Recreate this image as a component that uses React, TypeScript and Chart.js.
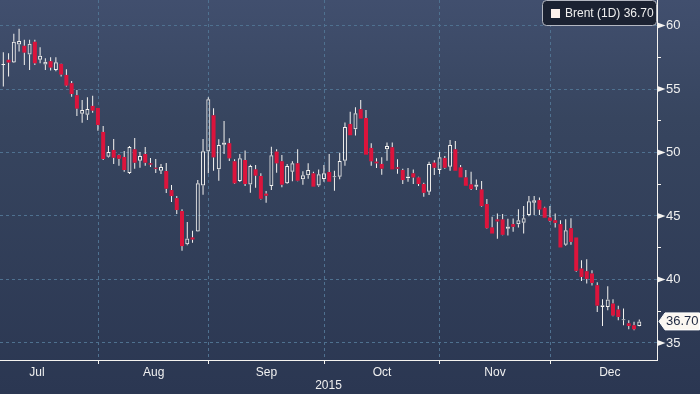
import React, { useEffect, useRef } from 'react';
import { Chart, registerables } from 'chart.js';

Chart.register(...registerables);

// ---- Data (Brent, daily candles) ----
const opens = [
  56.90, 57.30, 57.09, 58.50, 58.40, 57.72, 58.72, 57.30, 56.93, 57.19,
  56.50, 56.98, 56.11, 55.46, 54.51, 53.06, 52.98, 53.67, 53.51, 51.62,
  49.67, 50.20, 49.80, 49.65, 48.38, 50.25, 49.36, 49.88, 49.15, 48.80,
  48.57, 48.54, 47.04, 46.41, 45.39, 42.78, 43.31, 43.78, 47.41, 50.07,
  52.93, 48.68, 50.62, 50.73, 49.31, 47.75, 49.41, 47.49, 48.67, 48.15,
  46.76, 47.36, 50.07, 49.31, 47.57, 48.49, 49.15, 47.89, 48.20, 48.36,
  47.41, 47.91, 48.46, 48.05, 48.10, 49.36, 52.25, 51.83, 53.41, 52.72,
  50.36, 49.28, 49.10, 50.25, 50.41, 48.83, 48.62, 47.97, 48.36, 48.04,
  47.52, 46.91, 49.20, 48.62, 49.56, 48.88, 50.25, 48.83, 48.04, 47.49,
  47.30, 47.09, 45.94, 44.10, 44.73, 44.73, 43.99, 44.36, 44.36, 44.46,
  45.07, 46.04, 46.25, 45.65, 44.88, 44.67, 44.36, 42.73, 44.04, 43.31,
  40.86, 40.65, 40.47, 39.55, 37.84, 37.84, 38.10, 37.63, 36.80, 36.55,
  36.39, 36.34,
];
const highs = [
  57.90, 57.82, 59.35, 59.74, 58.87, 58.87, 58.87, 58.29, 57.43, 57.50,
  57.50, 57.00, 56.56, 55.64, 54.93, 54.14, 54.35, 54.46, 53.51, 52.09,
  50.51, 51.06, 49.85, 50.12, 50.51, 51.14, 50.04, 50.43, 49.57, 49.49,
  49.09, 49.17, 47.44, 46.57, 45.54, 44.52, 43.84, 47.83, 51.06, 54.35,
  53.48, 51.04, 52.49, 51.12, 49.46, 49.88, 50.15, 49.04, 49.02, 48.36,
  46.97, 50.46, 50.25, 49.81, 49.10, 49.31, 50.25, 48.52, 49.15, 48.49,
  48.67, 49.02, 49.88, 48.57, 49.99, 52.36, 53.20, 53.56, 54.14, 53.35,
  50.73, 49.54, 49.62, 50.78, 50.78, 49.46, 48.73, 48.78, 48.67, 48.10,
  47.62, 49.28, 49.40, 50.04, 49.72, 50.98, 50.90, 49.01, 48.62, 48.49,
  47.88, 47.75, 46.33, 44.94, 45.20, 45.15, 44.78, 44.80, 45.54, 45.78,
  46.57, 46.57, 46.46, 45.73, 45.78, 45.20, 44.67, 44.75, 44.83, 43.31,
  41.52, 41.60, 40.73, 39.78, 38.44, 39.47, 38.44, 37.94, 37.71, 36.79,
  36.68, 36.84,
];
const lows = [
  55.20, 55.98, 57.05, 57.95, 56.90, 56.50, 56.90, 57.03, 56.50, 56.45,
  56.40, 55.98, 55.19, 54.40, 52.88, 52.35, 52.56, 53.14, 51.72, 49.41,
  49.60, 49.09, 48.96, 48.49, 48.30, 48.73, 48.80, 48.96, 48.86, 48.38,
  48.30, 46.81, 46.10, 45.15, 42.26, 42.70, 42.89, 43.75, 46.67, 48.36,
  48.57, 47.78, 49.88, 49.33, 47.52, 47.68, 47.36, 46.83, 47.23, 46.30,
  46.05, 47.05, 48.41, 47.26, 47.52, 47.73, 47.73, 47.47, 47.94, 47.31,
  47.31, 47.70, 47.70, 46.99, 47.89, 48.96, 51.36, 51.33, 52.67, 49.83,
  48.96, 48.78, 48.25, 49.36, 48.67, 48.33, 47.52, 47.70, 47.52, 47.36,
  46.52, 46.65, 48.22, 48.30, 48.72, 48.56, 48.56, 48.04, 47.38, 47.04,
  47.04, 45.73, 43.99, 43.62, 43.20, 43.49, 43.46, 43.75, 44.10, 43.62,
  44.99, 45.07, 45.07, 44.86, 44.54, 44.10, 42.52, 42.65, 42.73, 40.60,
  39.89, 39.68, 39.52, 37.44, 36.34, 37.58, 37.10, 36.79, 36.39, 36.08,
  36.00, 36.31,
];
const closes = [
  56.95, 57.09, 58.72, 58.79, 57.87, 58.56, 57.03, 57.61, 57.14, 56.69,
  57.11, 56.14, 55.27, 54.61, 53.46, 53.35, 53.43, 53.30, 52.17, 49.49,
  50.04, 49.59, 49.51, 48.62, 50.43, 49.20, 49.72, 49.20, 49.05, 48.72,
  48.86, 47.15, 46.57, 45.47, 42.63, 43.23, 43.15, 47.57, 50.09, 54.19,
  49.62, 50.59, 50.78, 49.54, 47.57, 49.54, 47.52, 48.94, 48.18, 46.36,
  46.60, 49.78, 49.15, 47.47, 48.94, 49.15, 47.78, 48.20, 48.62, 47.31,
  48.28, 48.36, 47.70, 48.12, 49.33, 52.01, 51.36, 53.09, 52.67, 49.83,
  49.31, 49.15, 48.73, 50.52, 48.67, 48.73, 47.83, 48.12, 48.04, 47.52,
  46.83, 49.10, 48.80, 49.62, 48.80, 50.59, 48.56, 48.04, 47.38, 47.12,
  47.49, 45.78, 44.04, 43.62, 44.57, 43.52, 44.17, 44.15, 44.67, 44.83,
  46.17, 46.25, 45.51, 44.86, 44.62, 44.46, 42.52, 43.88, 42.96, 40.68,
  40.20, 40.05, 39.73, 37.94, 37.97, 38.42, 37.16, 37.05, 36.87, 36.34,
  36.08, 36.70,
];

const monthNames = ['Jul', 'Aug', 'Sep', 'Oct', 'Nov', 'Dec'];
const monthCenters = [6.41, 28.6, 50.08, 72.05, 93.55, 115.4];
const monthBoundaries = [18.15, 39.04, 61.1, 83.03, 104.1];
const yearLabel = '2015';
const yMajorTicks = [35, 40, 45, 50, 55, 60];
const yMinorTicks = [37.5, 42.5, 47.5, 52.5, 57.5];
const seriesName = 'Brent (1D)';
const lastValue = 36.7;

const RED = '#dc143c';
const WHITE = '#f5f3f0';
const TEXT = '#f0f0f0';
const GRID = '#4f7190';
const FONT = "'Liberation Sans', Arial, sans-serif";

export default function App() {
  const canvasRef = useRef<HTMLCanvasElement | null>(null);

  useEffect(() => {
    const canvas = canvasRef.current;
    if (!canvas) return;

    const idx = opens.map((_, i) => i);
    const isUp = idx.map((i) => closes[i] >= opens[i]);

    const bodyData = idx.map((i) => ({
      x: i,
      y: [Math.min(opens[i], closes[i]), Math.max(opens[i], closes[i])],
    }));
    const upperWick = idx.map((i) => ({
      x: i,
      y: [Math.max(opens[i], closes[i]), highs[i]],
    }));
    const lowerWick = idx.map((i) => ({
      x: i,
      y: [lows[i], Math.min(opens[i], closes[i])],
    }));

    const bgPlugin = {
      id: 'bgPlugin',
      beforeDraw(chart: any) {
        const { ctx, width, height } = chart;
        const g = ctx.createLinearGradient(0, 0, 0, height);
        g.addColorStop(0, '#414f6e');
        g.addColorStop(0.3, '#37455f');
        g.addColorStop(1, '#2b3752');
        ctx.save();
        ctx.fillStyle = g;
        ctx.fillRect(0, 0, width, height);
        ctx.restore();
      },
    };

    const overlayPlugin = {
      id: 'overlayPlugin',
      afterDraw(chart: any) {
        const { ctx, chartArea } = chart;
        const ys = chart.scales.y;
        const axisX = Math.round(chartArea.right) + 0.5;
        ctx.save();
        // major tick markers
        ctx.fillStyle = WHITE;
        yMajorTicks.forEach((v) => {
          const y = ys.getPixelForValue(v);
          ctx.beginPath();
          ctx.moveTo(axisX, y - 3);
          ctx.lineTo(axisX + 8, y);
          ctx.lineTo(axisX, y + 3);
          ctx.closePath();
          ctx.fill();
        });
        // last price tag
        const ly = ys.getPixelForValue(lastValue);
        const bx = axisX + 1.5;
        ctx.beginPath();
        ctx.moveTo(bx, ly);
        ctx.lineTo(bx + 6, ly - 8.5);
        ctx.lineTo(699.5, ly - 8.5);
        ctx.lineTo(699.5, ly + 8.5);
        ctx.lineTo(bx + 6, ly + 8.5);
        ctx.closePath();
        ctx.fillStyle = '#fbf7f1';
        ctx.fill();
        ctx.strokeStyle = '#ffffff';
        ctx.lineWidth = 1;
        ctx.stroke();
        ctx.fillStyle = '#1d2740';
        ctx.font = `13px ${FONT}`;
        ctx.textBaseline = 'middle';
        ctx.textAlign = 'left';
        ctx.fillText(lastValue.toFixed(2), bx + 7, ly + 0.5);

        // legend box
        const lx = 542.5, lyTop = 0.5, lw = 114, lh = 25;
        const r = 4;
        ctx.beginPath();
        ctx.moveTo(lx + r, lyTop);
        ctx.lineTo(lx + lw - r, lyTop);
        ctx.quadraticCurveTo(lx + lw, lyTop, lx + lw, lyTop + r);
        ctx.lineTo(lx + lw, lyTop + lh - r);
        ctx.quadraticCurveTo(lx + lw, lyTop + lh, lx + lw - r, lyTop + lh);
        ctx.lineTo(lx + r, lyTop + lh);
        ctx.quadraticCurveTo(lx, lyTop + lh, lx, lyTop + lh - r);
        ctx.lineTo(lx, lyTop + r);
        ctx.quadraticCurveTo(lx, lyTop, lx + r, lyTop);
        ctx.closePath();
        ctx.fillStyle = '#1b2232';
        ctx.fill();
        ctx.strokeStyle = '#b4b8c2';
        ctx.stroke();
        ctx.fillStyle = '#fdf1ec';
        ctx.fillRect(551, 9, 9, 9);
        ctx.fillStyle = TEXT;
        ctx.font = `12px ${FONT}`;
        ctx.textBaseline = 'middle';
        ctx.fillText(`${seriesName} ${lastValue.toFixed(2)}`, 565, 14);
        ctx.restore();
      },
    };

    const chart = new Chart(canvas, {
      type: 'bar',
      data: {
        datasets: [
          {
            data: upperWick as any,
            backgroundColor: WHITE,
            borderWidth: 0,
            barThickness: 1,
            grouped: false,
            inflateAmount: 0,
            order: 3,
          } as any,
          {
            data: lowerWick as any,
            backgroundColor: WHITE,
            borderWidth: 0,
            barThickness: 1,
            grouped: false,
            inflateAmount: 0,
            order: 2,
          } as any,
          {
            data: bodyData as any,
            backgroundColor: idx.map((i) => (isUp[i] ? 'rgba(0,0,0,0)' : RED)),
            borderColor: idx.map((i) => (isUp[i] ? WHITE : RED)),
            borderWidth: idx.map((i) => (isUp[i] ? 1 : 0)),
            borderSkipped: false,
            barThickness: 4,
            minBarLength: 1,
            grouped: false,
            inflateAmount: 0,
            order: 1,
          } as any,
        ],
      },
      options: {
        animation: false,
        responsive: false,
        devicePixelRatio: 1,
        layout: { padding: 0 },
        plugins: {
          legend: { display: false },
          tooltip: { enabled: false },
          title: { display: false },
        },
        scales: {
          x: {
            type: 'linear',
            position: 'bottom',
            offset: false,
            min: -0.63,
            max: 124.37,
            afterBuildTicks: (s: any) => {
              s.ticks = [...monthBoundaries, ...monthCenters]
                .sort((a, b) => a - b)
                .map((v) => ({ value: v }));
            },
            afterFit: (s: any) => {
              s.height = 34;
              s.paddingLeft = 0;
              s.paddingRight = 0;
              s.paddingTop = 0;
              s.paddingBottom = 0;
            },
            ticks: {
              autoSkip: false,
              maxRotation: 0,
              minRotation: 0,
              padding: 1,
              color: TEXT,
              font: { size: 12, family: FONT },
              callback: (v: any) => {
                const k = monthCenters.indexOf(v);
                return k >= 0 ? monthNames[k] : '';
              },
            },
            grid: {
              offset: false,
              color: (c: any) =>
                c.tick && monthBoundaries.includes(c.tick.value) ? GRID : 'rgba(0,0,0,0)',
              tickColor: (c: any) =>
                c.tick && monthBoundaries.includes(c.tick.value) ? WHITE : 'rgba(0,0,0,0)',
              tickLength: 4,
              lineWidth: 1,
            },
            border: { display: true, color: WHITE, width: 1, dash: [3, 3] },
            title: {
              display: true,
              text: yearLabel,
              color: TEXT,
              font: { size: 12, family: FONT },
              padding: { top: 0, bottom: 1 },
            },
          } as any,
          y: {
            type: 'linear',
            position: 'right',
            min: 33.66,
            max: 62.01,
            afterBuildTicks: (s: any) => {
              s.ticks = [...yMajorTicks, ...yMinorTicks]
                .sort((a, b) => a - b)
                .map((v) => ({ value: v }));
            },
            afterFit: (s: any) => {
              s.width = 43;
              s.paddingTop = 0;
              s.paddingBottom = 0;
              s.paddingLeft = 0;
              s.paddingRight = 0;
            },
            ticks: {
              padding: 5,
              color: TEXT,
              font: { size: 13, family: FONT },
              callback: (v: any) => (yMajorTicks.includes(v) ? String(v) : ''),
            },
            grid: {
              color: (c: any) =>
                c.tick && yMajorTicks.includes(c.tick.value) ? GRID : 'rgba(0,0,0,0)',
              tickColor: (c: any) =>
                c.tick && yMinorTicks.includes(c.tick.value) ? WHITE : 'rgba(0,0,0,0)',
              tickLength: 4,
              lineWidth: 1,
            },
            border: { display: true, color: WHITE, width: 1, dash: [3, 3] },
          } as any,
        },
      } as any,
      plugins: [bgPlugin, overlayPlugin],
    });

    return () => chart.destroy();
  }, []);

  return (
    <div style={{ position: 'absolute', left: 0, top: 0, width: 700, height: 394 }}>
      <canvas ref={canvasRef} width={700} height={394} style={{ display: 'block' }} />
    </div>
  );
}
